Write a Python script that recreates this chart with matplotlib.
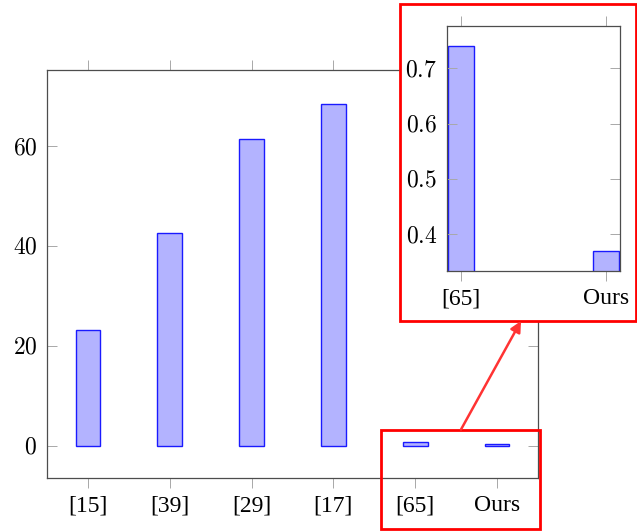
import matplotlib
matplotlib.use("Agg")
import matplotlib.pyplot as plt
from matplotlib.patches import Rectangle, FancyArrowPatch
from matplotlib.ticker import FuncFormatter, FixedLocator

plt.rcParams['font.family'] = ['Liberation Serif', 'DejaVu Serif']
plt.rcParams['mathtext.fontset'] = 'cm'

categories = ["[15]", "[39]", "[29]", "[17]", "[65]", "Ours"]
values = [23.3, 42.6, 61.5, 68.5, 0.74, 0.37]
yticks_main = [0, 20, 40, 60]

inset_categories = ["[65]", "Ours"]
inset_values = [0.74, 0.37]
yticks_inset = [0.4, 0.5, 0.6, 0.7]

W, H = 637, 531
fig = plt.figure(figsize=(W / 100, H / 100), dpi=100)

FILL = '#b3b3ff'
EDGE = '#1a1aff'
SPINE = '#4d4d4d'
TICK = '#a8a8a8'
FS = 17


def fx(px):
    return px / W


def fy(py):
    return (H - py) / H


def style(ax):
    for s in ax.spines.values():
        s.set_color(SPINE)
        s.set_linewidth(0.9)
    ax.tick_params(axis='x', direction='out', top=True, bottom=True, length=7.5,
                   width=0.7, color=TICK, labelsize=FS, pad=5)
    ax.tick_params(axis='y', direction='in', left=True, right=True, length=7.5,
                   width=0.7, color=TICK, labelsize=FS, pad=7)


# main axes
ax = fig.add_axes([fx(47), fy(478), fx(538) - fx(47), fy(70) - fy(478)])
x = list(range(len(categories)))
ax.bar(x, values, width=0.3, color=FILL, edgecolor=EDGE, linewidth=1.0)
ax.set_xlim(-0.5, 5.5)
ax.set_ylim(-6.4, 75.2)
ax.set_xticks(x)
ax.set_xticklabels(categories)
ax.yaxis.set_major_locator(FixedLocator(yticks_main))
ax.yaxis.set_major_formatter(FuncFormatter(lambda v, p: r'$%d$' % v))
style(ax)

# lower highlight box
fig.patches.append(Rectangle((fx(381), fy(529)), fx(540) - fx(381), fy(429.5) - fy(529),
                             transform=fig.transFigure, fill=False, edgecolor='#ff0000',
                             linewidth=2.0, zorder=5))

# upper inset box (white background)
fig.patches.append(Rectangle((fx(400), fy(320.5)), fx(636) - fx(400), fy(3.5) - fy(320.5),
                             transform=fig.transFigure, facecolor='white', edgecolor='#ff0000',
                             linewidth=2.0, zorder=5))

# inset axes
axi = fig.add_axes([fx(446.7), fy(271), fx(620) - fx(446.7), fy(25.7) - fy(271)], zorder=6)
xi = list(range(len(inset_categories)))
axi.bar(xi, inset_values, width=0.18, color=FILL, edgecolor=EDGE, linewidth=1.0)
axi.set_xlim(-0.096, 1.096)
axi.set_ylim(0.3336, 0.777)
axi.set_xticks(xi)
axi.set_xticklabels(inset_categories)
axi.yaxis.set_major_locator(FixedLocator(yticks_inset))
axi.yaxis.set_major_formatter(FuncFormatter(lambda v, p: r'$%.1f$' % v))
style(axi)

# arrow
arr = FancyArrowPatch((fx(461), fy(429.5)), (fx(521), fy(321)), transform=fig.transFigure,
                      arrowstyle='-|>', mutation_scale=16, color='#ff3333', linewidth=1.8,
                      shrinkA=0, shrinkB=0, zorder=7)
fig.patches.append(arr)

fig.savefig('out.png', dpi=100)
